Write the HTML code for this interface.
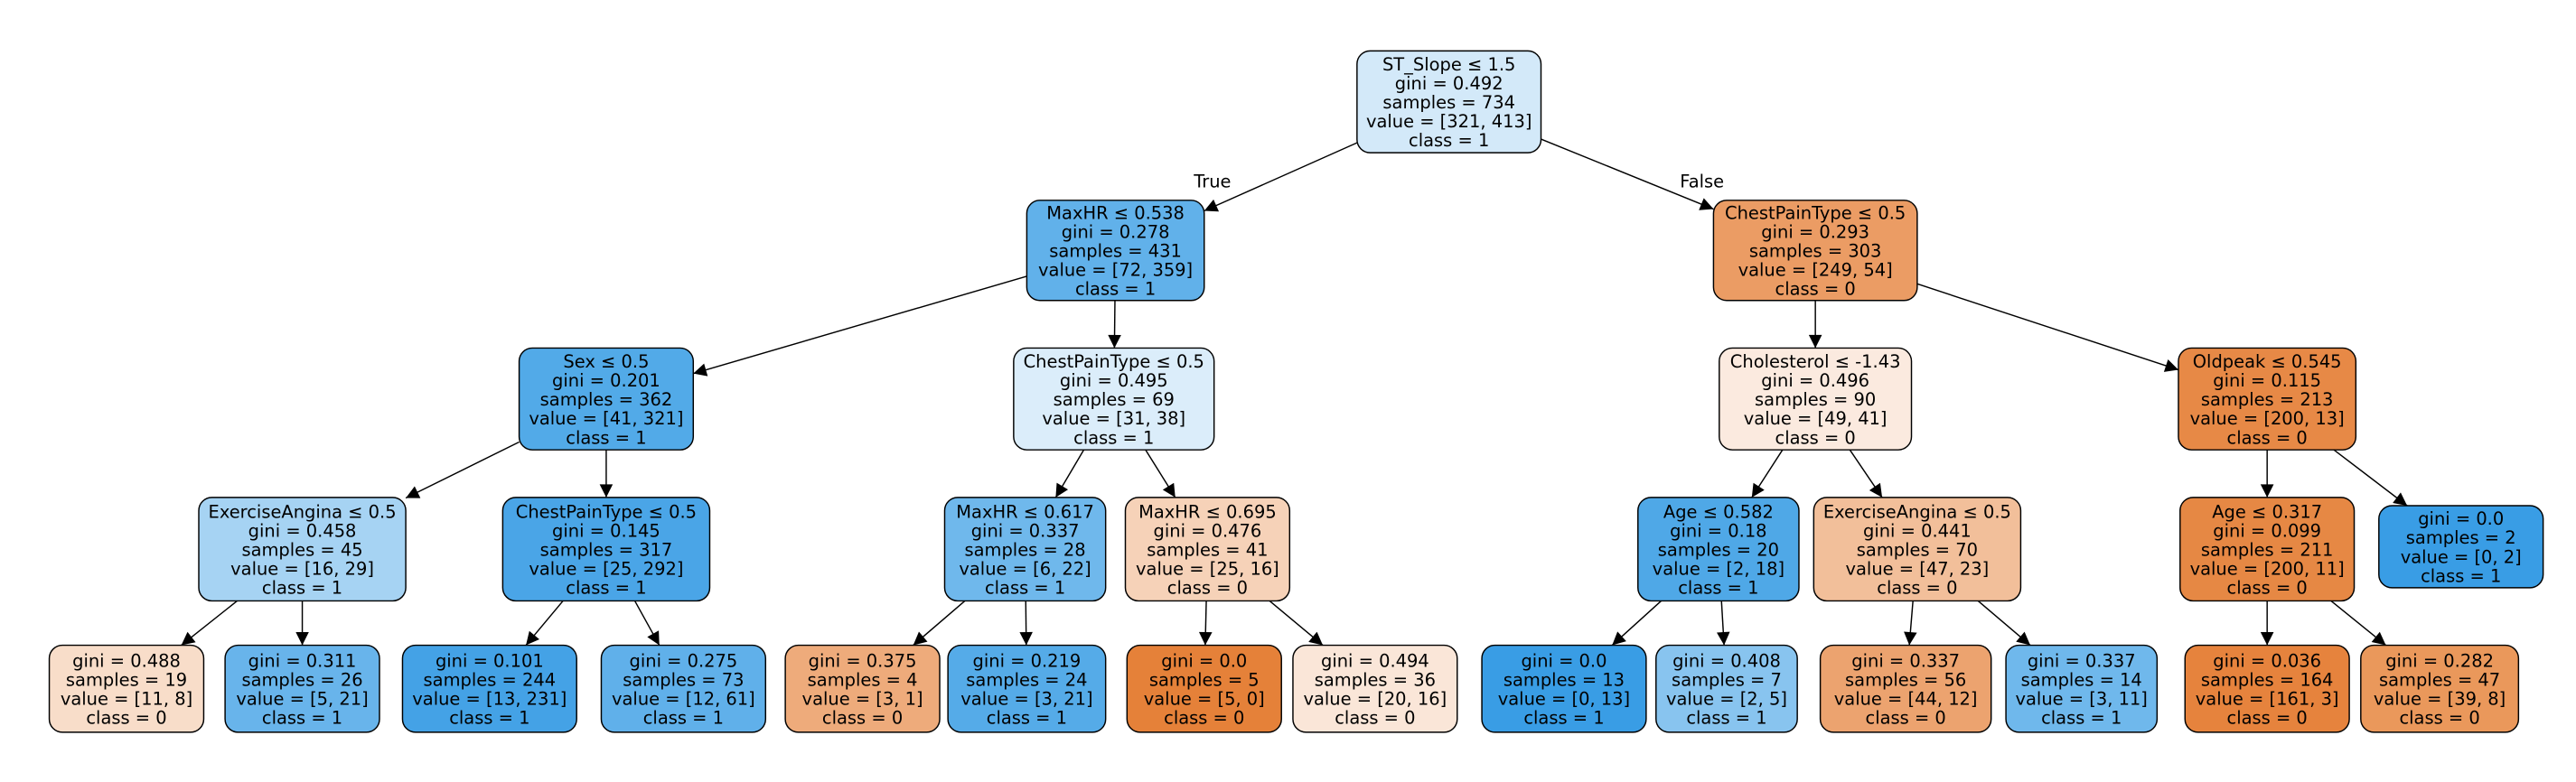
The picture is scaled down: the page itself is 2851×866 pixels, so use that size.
<!DOCTYPE html>
<html><head><meta charset="utf-8"><style>
html,body{margin:0;padding:0;background:#fff;}
svg{display:block;}
text{font-family:"DejaVu Sans","Liberation Sans",sans-serif;font-size:10.7px;fill:#000;}
</style></head><body>
<svg id="s" width="2851" height="866" viewBox="0 0 1568 476.3" preserveAspectRatio="none" xmlns="http://www.w3.org/2000/svg">
<defs><marker id="a" viewBox="0 0 10 10" refX="10" refY="5" markerWidth="10" markerHeight="8" markerUnits="userSpaceOnUse" orient="auto"><path d="M0,0 L10,5 L0,10 z" fill="#000"/></marker></defs>
<g id="edges"></g>
<g id="nodes" stroke="#000" stroke-width="0.8"></g>
<text x="738" y="114" text-anchor="middle">True</text>
<text x="1036" y="114" text-anchor="middle">False</text>
</svg>
<script>
var N=[
[882,31,93,56,"#d3e9f9",["ST_Slope ≤ 1.5","gini = 0.492","samples = 734","value = [321, 413]","class = 1"]],
[679,122,183,54,"#61b1ea",["MaxHR ≤ 0.538","gini = 0.278","samples = 431","value = [72, 359]","class = 1"]],
[1105,122,183,62,"#eb9c64",["ChestPainType ≤ 0.5","gini = 0.293","samples = 303","value = [249, 54]","class = 0"]],
[369,212,274,53,"#52aae8",["Sex ≤ 0.5","gini = 0.201","samples = 362","value = [41, 321]","class = 1"]],
[678,212,274,61,"#dbedfa",["ChestPainType ≤ 0.5","gini = 0.495","samples = 69","value = [31, 38]","class = 1"]],
[1105,212,274,58.5,"#fbeadf",["Cholesterol ≤ -1.43","gini = 0.496","samples = 90","value = [49, 41]","class = 0"]],
[1380,212,274,54,"#e78946",["Oldpeak ≤ 0.545","gini = 0.115","samples = 213","value = [200, 13]","class = 0"]],
[184,303,366,63,"#a6d3f3",["ExerciseAngina ≤ 0.5","gini = 0.458","samples = 45","value = [16, 29]","class = 1"]],
[369,303,366,63,"#4aa5e7",["ChestPainType ≤ 0.5","gini = 0.145","samples = 317","value = [25, 292]","class = 1"]],
[624,303,366,49,"#6fb8ec",["MaxHR ≤ 0.617","gini = 0.337","samples = 28","value = [6, 22]","class = 1"]],
[735,303,366,50,"#f6d2b8",["MaxHR ≤ 0.695","gini = 0.476","samples = 41","value = [25, 16]","class = 0"]],
[1046,303,366,49,"#4fa8e7",["Age ≤ 0.582","gini = 0.18","samples = 20","value = [2, 18]","class = 1"]],
[1167,303,366,63,"#f2bf9a",["ExerciseAngina ≤ 0.5","gini = 0.441","samples = 70","value = [47, 23]","class = 0"]],
[1380,303,366,53,"#e68844",["Age ≤ 0.317","gini = 0.099","samples = 211","value = [200, 11]","class = 0"]],
[1498,308,358,50,"#399de5",["gini = 0.0","samples = 2","value = [0, 2]","class = 1"]],
[77,393,446,47,"#f8ddc9",["gini = 0.488","samples = 19","value = [11, 8]","class = 0"]],
[184,393,446,47,"#68b4eb",["gini = 0.311","samples = 26","value = [5, 21]","class = 1"]],
[298,393,446,53,"#44a2e6",["gini = 0.101","samples = 244","value = [13, 231]","class = 1"]],
[416,393,446,50,"#60b0ea",["gini = 0.275","samples = 73","value = [12, 61]","class = 1"]],
[525,393,446,47,"#eeab7b",["gini = 0.375","samples = 4","value = [3, 1]","class = 0"]],
[625,393,446,48,"#55abe8",["gini = 0.219","samples = 24","value = [3, 21]","class = 1"]],
[733,393,446,47,"#e58139",["gini = 0.0","samples = 5","value = [5, 0]","class = 0"]],
[837,393,446,50,"#fae6d8",["gini = 0.494","samples = 36","value = [20, 16]","class = 0"]],
[952,393,446,50,"#399de5",["gini = 0.0","samples = 13","value = [0, 13]","class = 1"]],
[1051,393,446,43,"#88c4ef",["gini = 0.408","samples = 7","value = [2, 5]","class = 1"]],
[1160,393,446,52,"#eca36f",["gini = 0.337","samples = 56","value = [44, 12]","class = 0"]],
[1267,393,446,46,"#6fb8ec",["gini = 0.337","samples = 14","value = [3, 11]","class = 1"]],
[1380,393,446,50,"#e6833d",["gini = 0.036","samples = 164","value = [161, 3]","class = 0"]],
[1485,393,446,48,"#ea985b",["gini = 0.282","samples = 47","value = [39, 8]","class = 0"]]
];
var E=[[0,1],[0,2],[1,3],[1,4],[2,5],[2,6],[3,7],[3,8],[4,9],[4,10],[5,11],[5,12],[6,13],[6,14],
[7,15],[7,16],[8,17],[8,18],[9,19],[9,20],[10,21],[10,22],[11,23],[11,24],[12,25],[12,26],[13,27],[13,28]];
var NS="http://www.w3.org/2000/svg";
var ng=document.getElementById("nodes"),eg=document.getElementById("edges");
function el(t,a,p){var e=document.createElementNS(NS,t);for(var k in a)e.setAttribute(k,a[k]);p.appendChild(e);return e;}
N.forEach(function(n){
  var cx=n[0],t=n[1],b=n[2],w=n[3];
  el("rect",{x:cx-w,y:t,width:2*w,height:b-t,rx:8,ry:8,fill:n[4]},ng);
  var L=n[5],cy=(t+b)/2,sp=11.6;
  L.forEach(function(s,i){
    var y=cy+(i-(L.length-1)/2)*sp+4;
    var tx=el("text",{x:cx,y:y,"text-anchor":"middle",stroke:"none"},ng);tx.textContent=s;
  });
});
function clip(n,dx,dy){var hw=n[3],hh=(n[2]-n[1])/2;var tx=Math.abs(dx)>0?hw/Math.abs(dx):1e9,ty=Math.abs(dy)>0?hh/Math.abs(dy):1e9;return Math.min(tx,ty);}
E.forEach(function(e){
  var p=N[e[0]],c=N[e[1]];
  var px=p[0],py=(p[1]+p[2])/2,cx=c[0],cy=(c[1]+c[2])/2;
  var dx=cx-px,dy=cy-py;
  var t1=clip(p,dx,dy),t2=clip(c,dx,dy);
  el("line",{x1:px+dx*t1,y1:py+dy*t1,x2:cx-dx*t2,y2:cy-dy*t2,stroke:"#000","stroke-width":0.8,"marker-end":"url(#a)"},eg);
});
</script>
</body></html>
